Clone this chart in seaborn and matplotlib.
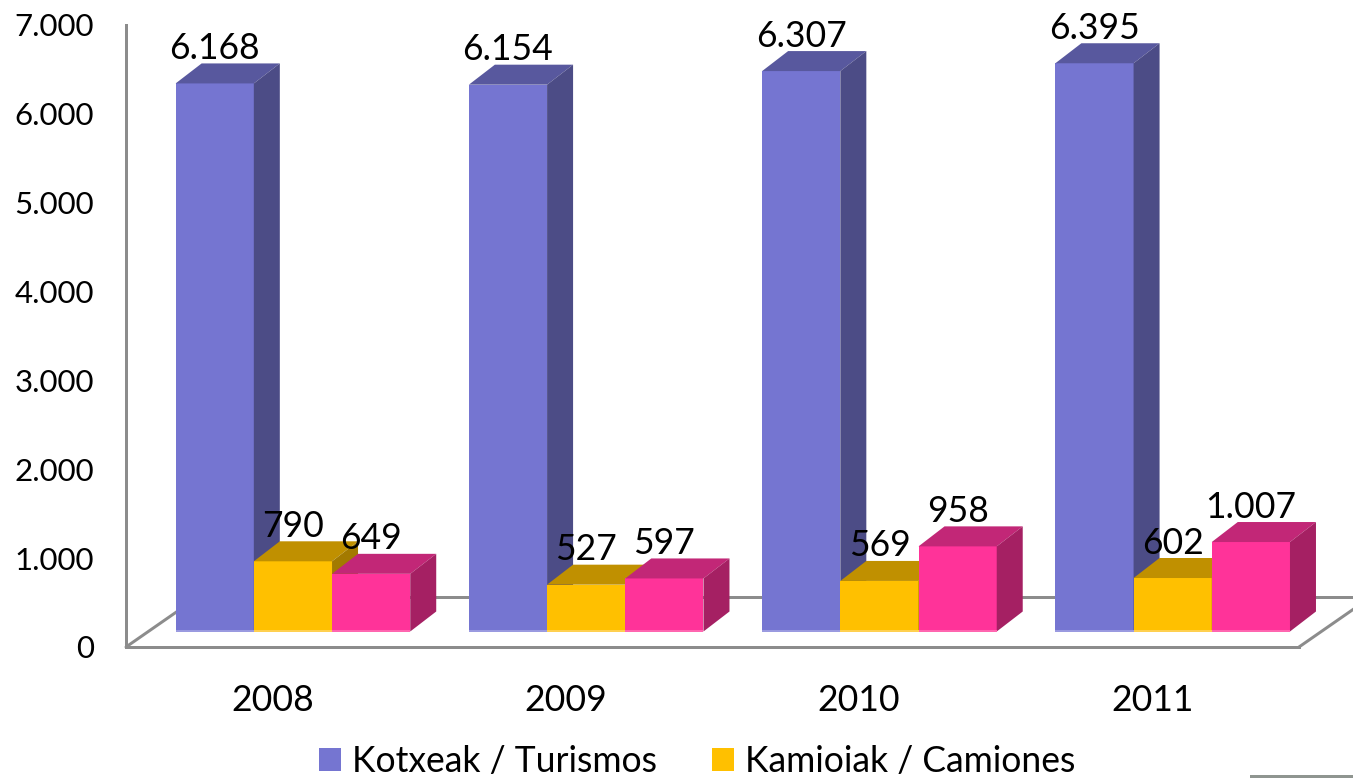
import seaborn as sns
from matplotlib import pyplot as plt
from matplotlib.lines import Line2D
from matplotlib.patches import Patch, Polygon, Rectangle
from matplotlib.transforms import IdentityTransform, ScaledTranslation
import pandas as pd

years = ['2008', '2009', '2010', '2011']
turismos = [6168, 6154, 6307, 6395]
camiones = [790, 527, 569, 602]
otros = [649, 597, 958, 1007]
series_names = ['Kotxeak / Turismos', 'Kamioiak / Camiones', 'Besteak']
y_ticks = [0, 1000, 2000, 3000, 4000, 5000, 6000, 7000]

front_colors = ['#7575D1', '#FFC000', '#FF3399']
top_colors = ['#58589E', '#C09000', '#C22777']
side_colors = ['#4C4C86', '#A37A00', '#A52063']
base_colors = ['#9A9AE0', '#FFD050', '#FF66B0']
grey = '#8C8C8C'

W, H = 1353, 778
DPI = 100


def dots(points):
    return points * 72 / DPI


def fmt(v):
    return f'{v:,}'.replace(',', '.')


sns.set_theme(style='white')
plt.rcParams['font.family'] = ['Lato', 'DejaVu Sans']

df = pd.DataFrame({
    'year': years * 3,
    'value': turismos + camiones + otros,
    'serie': [s for s in series_names for _ in years],
})

fig = plt.figure(figsize=(W / DPI, H / DPI), dpi=DPI, facecolor='white')
ax = fig.add_axes([126 / W, 1 - 647 / H, 1173 / W, 622 / H])
ax.patch.set_alpha(0)

sns.barplot(data=df, x='year', y='value', hue='serie', palette=front_colors,
            saturation=1, width=0.80, gap=0, legend=False, ax=ax)

ax.set_xlim(-0.5, 3.5)
ax.set_ylim(0, 7000)
ax.set_yticks(y_ticks)
ax.set_yticklabels([fmt(v) for v in y_ticks])
ax.set_xlabel('')
ax.set_ylabel('')
ax.tick_params(axis='y', length=0, pad=dots(32), labelsize=22.5, labelcolor='black')
ax.tick_params(axis='x', length=0, pad=dots(37), labelsize=25.6, labelcolor='black')
sns.despine(ax=ax)
for name in ['left', 'bottom']:
    ax.spines[name].set_color(grey)
    ax.spines[name].set_linewidth(dots(3))

# the "3d" look: bars sit forward on the floor, depth is in pixels
shift = ScaledTranslation(20.3 / DPI, 15.5 / DPI, fig.dpi_scale_trans)
bar_trans = ax.transData + shift
dx, dy = 26, 20
floor_dx, floor_dy = 72, 50
pix = IdentityTransform()

(x0, y0), (x1, y1) = ax.transAxes.transform([(0, 0), (1, 1)])
for a, b in [((x0, y0), (x0 + floor_dx, y0 + floor_dy)),
             ((x1, y0), (x1 + floor_dx, y0 + floor_dy)),
             ((x0 + floor_dx, y0 + floor_dy), (x1 + floor_dx, y0 + floor_dy))]:
    ax.add_line(Line2D([a[0], b[0]], [a[1], b[1]], color=grey, lw=dots(3),
                       transform=pix, clip_on=False, zorder=1))

for s, bars in enumerate(ax.containers):
    for bar in bars:
        bar.set_transform(bar_trans)
        bar.set_linewidth(0)
        bar.set_zorder(3 + s)
        (l, b), (r, t) = bar_trans.transform([
            (bar.get_x(), 0), (bar.get_x() + bar.get_width(), bar.get_height())])
        ax.add_patch(Polygon([(l, t), (r, t), (r + dx, t + dy), (l + dx, t + dy)],
                             fc=top_colors[s], lw=0, transform=pix, clip_on=False, zorder=3 + s))
        ax.add_patch(Polygon([(r, b), (r + dx, b + dy), (r + dx, t + dy), (r, t)],
                             fc=side_colors[s], lw=0, transform=pix, clip_on=False, zorder=3 + s))
        ax.add_patch(Polygon([(l, b), (r, b), (r, b + 2), (l, b + 2)],
                             fc=base_colors[s], lw=0, transform=pix, clip_on=False, zorder=3.5 + s))
        ax.annotate(fmt(int(bar.get_height())),
                    xy=(bar.get_x() + bar.get_width() / 2, bar.get_height()),
                    xycoords=bar_trans, xytext=(0, dots(35)), textcoords='offset points',
                    ha='center', va='center', fontsize=25.6, color='black', zorder=10,
                    annotation_clip=False)

handles = [Patch(fc=front_colors[i], lw=0, label=series_names[i]) for i in range(2)]
fig.legend(handles=handles, ncol=2, loc='center left', bbox_to_anchor=(319 / W, 1 - 761.5 / H),
           frameon=False, fontsize=25.6, labelcolor='black', handlelength=0.62, handleheight=0.65,
           handletextpad=0.3, columnspacing=1.55, borderpad=0, borderaxespad=0)

# sliver of another picture at the bottom edge of the source image
fig.add_artist(Rectangle((1250 / W, 0), 103 / W, 3 / H, transform=fig.transFigure,
                         fc='#8F9590', lw=0))

fig.savefig('out.png', dpi=DPI)
